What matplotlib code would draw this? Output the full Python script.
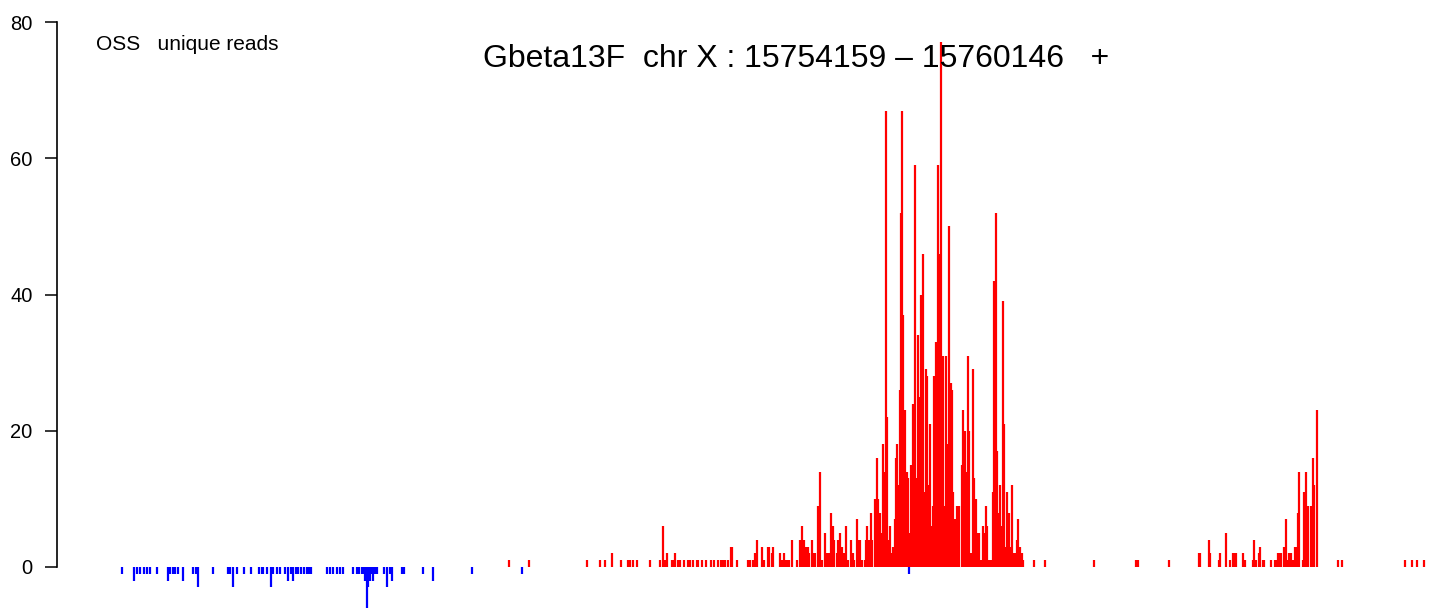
import matplotlib
matplotlib.use("Agg")
import matplotlib.pyplot as plt

# gene / region info
gene = "Gbeta13F"
chrom = "X"
start = 15754159
end = 15760146
strand = "+"

# read 5' ends, offsets (bp) from gene start, and unique read counts
plus_pos = [1990, 2090, 2380, 2445, 2470, 2505, 2550, 2585, 2595, 2610, 2630, 2695,
            2745, 2760, 2770, 2780, 2805, 2810, 2820, 2835, 2845, 2865, 2885, 2895,
            2910, 2930, 2935, 2955, 2975, 3000, 3015, 3035, 3050, 3060, 3070, 3085,
            3100, 3105, 3130, 3185, 3195, 3210, 3220, 3230, 3255, 3265, 3285, 3290,
            3305, 3310, 3345, 3355, 3365, 3375, 3380, 3390, 3405, 3430, 3445, 3455,
            3465, 3475, 3485, 3490, 3505, 3510, 3520, 3535, 3545, 3555, 3570, 3580,
            3590, 3600, 3610, 3615, 3630, 3635, 3645, 3655, 3665, 3675, 3685, 3700,
            3710, 3715, 3730, 3735,
            3745, 3755, 3770, 3775, 3780, 3790, 3800, 3805, 3820, 3830, 3835, 3845,
            3850, 3860, 3865, 3875, 3880, 3885, 3895, 3905, 3910, 3920, 3925, 3930,
            3940, 3945, 3950, 3955, 3960, 3970, 3980, 3985, 3995, 4000, 4010, 4015,
            4020, 4030, 4035, 4040, 4050, 4060, 4065, 4075, 4080, 4090, 4095, 4100,
            4110, 4115, 4125, 4135, 4140, 4145, 4150, 4160, 4165, 4175, 4180, 4185,
            4190, 4200, 4205, 4210, 4220, 4230, 4240, 4255, 4260, 4270, 4280, 4285,
            4290, 4300, 4310, 4315, 4325, 4330, 4340, 4350, 4360, 4365, 4375, 4380,
            4390, 4395, 4405, 4410, 4415, 4420, 4425, 4430, 4440, 4445, 4455, 4460,
            4465, 4475, 4480, 4490, 4495, 4505, 4510, 4520, 4530, 4535, 4545, 4555,
            4560, 4615, 4670, 4915, 5125, 5135, 5290,
            5440, 5445, 5490, 5495, 5540, 5545, 5575, 5595, 5610, 5615, 5625, 5660,
            5670, 5710, 5715, 5725, 5740, 5745, 5760, 5765, 5800, 5820, 5830, 5835,
            5845, 5850, 5865, 5875, 5880, 5890, 5900, 5910, 5920, 5925, 5935, 5940,
            5960, 5965, 5975, 5985, 6000, 6010, 6015, 6030, 6135, 6155, 6470, 6505,
            6530, 6565]
plus_cnt = [1, 1, 1, 1, 1, 2, 1, 1, 1, 1, 1, 1,
            1, 6, 1, 2, 1, 1, 2, 1, 1, 1, 1, 1,
            1, 1, 1, 1, 1, 1, 1, 1, 1, 1, 1, 1,
            3, 3, 1, 1, 1, 1, 2, 4, 3, 1, 3, 3,
            2, 3, 2, 1, 2, 1, 1, 1, 4, 1, 4, 6,
            4, 3, 3, 2, 4, 2, 2, 9, 14, 1, 5, 2,
            2, 8, 6, 4, 2, 4, 5, 3, 2, 6, 1, 4,
            2, 1, 7, 4,
            4, 1, 1, 4, 6, 4, 8, 4, 10, 16, 10, 8,
            5, 18, 14, 67, 22, 4, 6, 2, 3, 7, 16, 18,
            12, 26, 52, 67, 37, 23, 14, 13, 5, 15, 24, 13,
            59, 13, 34, 25, 40, 46, 11, 29, 28, 12, 21, 6,
            9, 28, 33, 59, 31, 46, 77, 31, 9, 31, 18, 11,
            50, 27, 26, 11, 7, 9, 9, 15, 23, 20, 14, 31,
            20, 2, 29, 13, 10, 5, 5, 1, 6, 5, 9, 6,
            1, 1, 1, 11, 42, 8, 52, 17, 8, 12, 6, 39,
            21, 3, 11, 8, 3, 12, 2, 2, 4, 7, 3, 2,
            1, 1, 1, 1, 1, 1, 1,
            2, 2, 4, 2, 1, 2, 5, 1, 2, 2, 2, 2,
            1, 1, 4, 1, 2, 3, 1, 1, 1, 1, 1, 2,
            2, 2, 3, 7, 1, 2, 2, 1, 3, 3, 8, 14,
            1, 11, 14, 9, 9, 16, 12, 23, 1, 1, 1, 1,
            1, 1]

minus_pos = [55, 115, 130, 145, 165, 180, 195, 230, 285, 295, 310, 320,
             335, 360, 410, 425, 435, 510, 585, 595, 610, 630, 665, 700,
             740, 755, 760, 780, 800, 810, 830, 845, 870, 885, 900, 910,
             925, 935, 950, 965, 980, 990, 1000, 1080, 1095, 1110, 1130, 1145,
             1160, 1210, 1230, 1240, 1255, 1260, 1270, 1280, 1285, 1295, 1305, 1310,
             1320, 1330, 1365, 1380, 1395, 1405, 1455, 1465, 1560, 1610, 1805, 2055,
             3990]
minus_cnt = [1, 2, 1, 1, 1, 1, 1, 1, 2, 1, 1, 1,
             1, 2, 1, 1, 3, 1, 1, 1, 3, 1, 1, 1,
             1, 1, 1, 1, 3, 1, 1, 1, 1, 2, 1, 2,
             1, 1, 1, 1, 1, 1, 1, 1, 1, 1, 1, 1,
             1, 1, 1, 1, 1, 1, 2, 6, 3, 2, 1, 2,
             1, 1, 1, 3, 1, 2, 1, 1, 1, 2, 1, 1,
             1]

yticks = [0, 20, 40, 60, 80]

plt.rcParams["font.family"] = ["Liberation Sans", "DejaVu Sans"]

W, H = 1438, 612
fig = plt.figure(figsize=(W / 100, H / 100), dpi=100)

# plot region in pixels: left 57 .. right 1438, y=0 at 567, y=80 at 22
ymin, ymax = -6.5, 82
ppu = (567 - 22) / 80.0
ax_bot = 567 + (0 - ymin) * ppu
ax_top = 567 - ymax * ppu
ax = fig.add_axes([57 / W, (H - ax_bot) / H, (W - 57) / W, (ax_bot - ax_top) / H])

ax.vlines([start + p for p in plus_pos], 0, plus_cnt, colors="#ff0000", lw=1.6)
ax.vlines([start + p for p in minus_pos], 0, [-c for c in minus_cnt],
          colors="#0000ff", lw=1.6)

ax.set_xlim(start - 270, start + 6635)
ax.set_ylim(ymin, ymax)

for s in ("top", "right", "bottom"):
    ax.spines[s].set_visible(False)
ax.spines["left"].set_bounds(0, 80)
ax.spines["left"].set_linewidth(1.2)
ax.set_xticks([])
ax.set_yticks(yticks)
ax.tick_params(axis="y", direction="out", length=8.6, width=1.1, pad=9,
               labelsize=14.5)

fig.text(96 / W, 1 - 44 / H, "OSS   unique reads", fontsize=15,
         ha="left", va="center")
fig.text(796 / W, 1 - 59 / H,
         f"{gene}  chr {chrom} : {start} \u2013 {end}   {strand}",
         fontsize=23, ha="center", va="center")

fig.savefig("out.png", dpi=100)
